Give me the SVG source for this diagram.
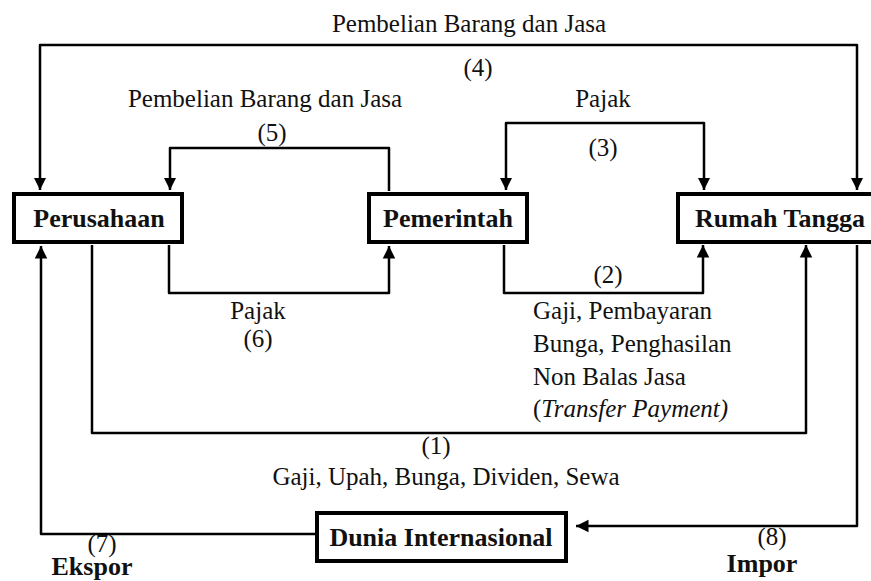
<svg xmlns="http://www.w3.org/2000/svg" width="871" height="581" viewBox="0 0 871 581">
<style>
.box{fill:#fff;stroke:#000;stroke-width:4}
.lbl{font-family:'Liberation Serif','Times New Roman',Times,serif;font-weight:bold;font-size:26px;fill:#111}
.t{font-family:'Liberation Serif','Times New Roman',Times,serif;font-size:25px;fill:#111}
.c{fill:none;stroke:#000;stroke-width:2.5;stroke-linejoin:round}
</style>
<defs>
<marker id="ah" viewBox="0 0 10 10" refX="10" refY="5" markerWidth="5" markerHeight="5.5" markerUnits="strokeWidth" orient="auto-start-reverse">
<path d="M0,0 L10,5 L0,10 Z" fill="#000"/>
</marker>
</defs>
<rect width="871" height="581" fill="#fff"/>
<g id="connectors">
<path class="c" d="M40,190 V45 H857 V190" marker-start="url(#ah)" marker-end="url(#ah)"/>
<path class="c" d="M389,191 V148 H170 V190" marker-end="url(#ah)"/>
<path class="c" d="M506,190 V123 H704 V190" marker-start="url(#ah)" marker-end="url(#ah)"/>
<path class="c" d="M169,245 V293 H389 V246" marker-end="url(#ah)"/>
<path class="c" d="M504,245 V293 H703 V245" marker-end="url(#ah)"/>
<path class="c" d="M92,245 V433 H806 V245" marker-end="url(#ah)"/>
<path class="c" d="M315,534 H41 V246" marker-end="url(#ah)"/>
<path class="c" d="M857,245 V526 H576" marker-end="url(#ah)"/>
</g>
<g id="labels">
<text class="t" x="469" y="32" text-anchor="middle">Pembelian Barang dan Jasa</text>
<text class="t" x="478" y="76" text-anchor="middle">(4)</text>
<text class="t" x="265" y="107" text-anchor="middle">Pembelian Barang dan Jasa</text>
<text class="t" x="272" y="141" text-anchor="middle">(5)</text>
<text class="t" x="603" y="107" text-anchor="middle">Pajak</text>
<text class="t" x="603" y="156" text-anchor="middle">(3)</text>
<text class="t" x="608" y="283" text-anchor="middle">(2)</text>
<text class="t" x="258" y="319" text-anchor="middle">Pajak</text>
<text class="t" x="258" y="347" text-anchor="middle">(6)</text>
<text class="t" x="533" y="319">Gaji, Pembayaran</text>
<text class="t" x="533" y="352">Bunga, Penghasilan</text>
<text class="t" x="533" y="385">Non Balas Jasa</text>
<text class="t" x="533" y="417">(<tspan font-style="italic">Transfer Payment)</tspan></text>
<text class="t" x="436" y="454" text-anchor="middle">(1)</text>
<text class="t" x="446" y="485" text-anchor="middle">Gaji, Upah, Bunga, Dividen, Sewa</text>
<text class="t" x="102" y="552" text-anchor="middle" font-size="22">(7)</text>
<text class="lbl" x="92" y="575" text-anchor="middle">Ekspor</text>
<text class="t" x="772" y="545" text-anchor="middle">(8)</text>
<text class="lbl" x="762" y="572" text-anchor="middle">Impor</text>
</g>
<g id="perusahaan">
<rect class="box" x="14" y="194" width="168" height="48"/>
<text class="lbl" x="99" y="227" text-anchor="middle">Perusahaan</text>
</g>
<g id="pemerintah">
<rect class="box" x="369" y="194" width="158" height="48"/>
<text class="lbl" x="448" y="227" text-anchor="middle">Pemerintah</text>
</g>
<g id="rumah-tangga">
<rect class="box" x="678" y="194" width="200" height="48"/>
<text class="lbl" x="780" y="227" text-anchor="middle">Rumah Tangga</text>
</g>
<g id="dunia-internasional">
<rect class="box" x="317" y="513" width="249" height="48"/>
<text class="lbl" x="441" y="546" text-anchor="middle">Dunia Internasional</text>
</g>
</svg>
